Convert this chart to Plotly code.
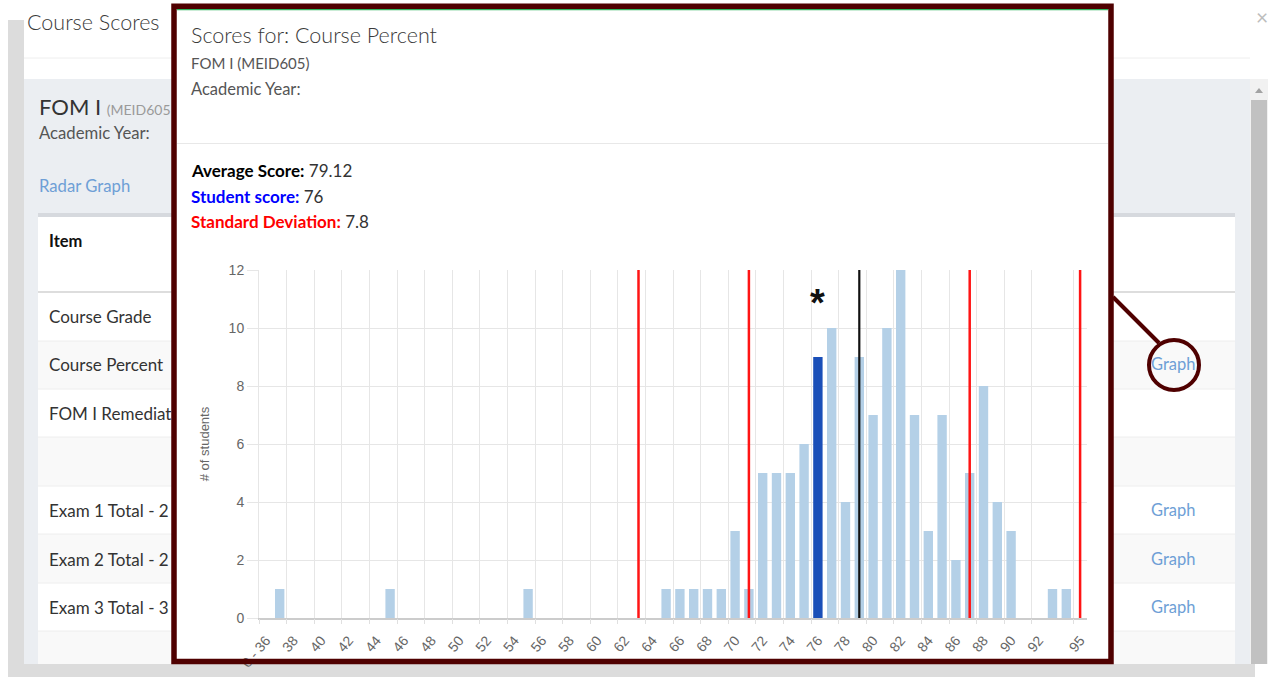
import plotly.graph_objects as go

# ---------------- data ----------------
categories = ["0 - 36", "37", "38", "39", "40", "41", "42", "43", "44", "45",
              "46", "47", "48", "49", "50", "51", "52", "53", "54", "55",
              "56", "57", "58", "59", "60", "61", "62", "63", "64", "65",
              "66", "67", "68", "69", "70", "71", "72", "73", "74", "75",
              "76", "77", "78", "79", "80", "81", "82", "83", "84", "85",
              "86", "87", "88", "89", "90", "91", "92", "93", "94", "95"]
counts = [0, 1, 0, 0, 0, 0, 0, 0, 0, 1,
          0, 0, 0, 0, 0, 0, 0, 0, 0, 1,
          0, 0, 0, 0, 0, 0, 0, 0, 0, 1,
          1, 1, 1, 1, 3, 1, 5, 5, 5, 6,
          9, 10, 4, 9, 7, 10, 12, 7, 3, 7,
          2, 5, 8, 4, 3, 0, 0, 1, 1, 0]
tick_labels = ["0 - 36", "38", "40", "42", "44", "46", "48", "50", "52", "54",
               "56", "58", "60", "62", "64", "66", "68", "70", "72", "74",
               "76", "78", "80", "82", "84", "86", "88", "90", "92", "95"]
average_score = 79.12
student_score = 76
std_dev = 7.8

avg_cat = str(round(average_score))
sd_step = round(std_dev)
sd_cats = [str(round(average_score) + k * sd_step) for k in (-2, -1, 1, 2)]
student_cat = str(student_score)

# ---------------- geometry helpers (page decoration) ----------------
W, H = 1268, 677
ML, MR, MT, MB = 259, 181, 270, 59
PW = W - ML - MR
PH = H - MT - MB


def fx(px):
    return (px - ML) / PW


def fy(py):
    return (H - MB - py) / PH


shapes = []
annotations = []


def rect(x0, y0, x1, y1, fill, layer="below", line_color=None, line_width=0):
    shapes.append(dict(type="rect", xref="paper", yref="paper",
                       x0=fx(x0), x1=fx(x1), y0=fy(y1), y1=fy(y0),
                       fillcolor=fill, layer=layer,
                       line=dict(color=line_color or "rgba(0,0,0,0)", width=line_width)))


def hline(x0, x1, y, color, width=1, layer="below"):
    shapes.append(dict(type="line", xref="paper", yref="paper",
                       x0=fx(x0), x1=fx(x1), y0=fy(y), y1=fy(y),
                       line=dict(color=color, width=width), layer=layer))


def text(x, y, s, size=16, color="#333333", family="Lato", xanchor="left"):
    annotations.append(dict(xref="paper", yref="paper", x=fx(x), y=fy(y),
                            text=s, showarrow=False, xanchor=xanchor, yanchor="middle",
                            font=dict(size=size, color=color, family=family),
                            align="left"))


# page background
rect(8, 20, 24, 677, "#dcdcdc")
rect(24, 664, 1255, 677, "#dcdcdc")
hline(24, 1250, 58, "#eeeeee", 1)
rect(24, 79, 1250, 664, "#ebeef2")
# scrollbar
rect(1250, 79, 1268, 664, "#f1f1f1")
rect(1251, 100, 1267, 664, "#c1c1c1")
shapes.append(dict(type="path", xref="paper", yref="paper", layer="below",
                   path="M %f,%f L %f,%f L %f,%f Z" % (fx(1255), fy(93), fx(1263), fy(93), fx(1259), fy(88)),
                   fillcolor="#a3a3a3", line=dict(width=0)))
# table card
rect(38, 213, 1235, 664, "#ffffff")
rect(38, 213, 1235, 217, "#d6d9de")
for y0, y1 in [(341, 389), (437, 486), (534, 583), (631, 664)]:
    rect(38, y0, 1235, y1, "#f9f9f9")
hline(38, 1235, 292, "#dddddd", 2)
for y in [341, 389, 437, 486, 534, 583, 631]:
    hline(38, 1235, y, "#eeeeee", 1)

# modal
rect(174, 6, 1111, 661.5, "#ffffff")
hline(177, 1108, 9.3, "#2eb35e", 2)
hline(177, 1108, 143.5, "#e8e8e8", 1)
rect(174, 6.3, 1111, 661.5, "rgba(0,0,0,0)", layer="above", line_color="#4f0000", line_width=5.5)
shapes.append(dict(type="line", xref="paper", yref="paper", layer="above",
                   x0=fx(1113), y0=fy(297), x1=fx(1159), y1=fy(343),
                   line=dict(color="#4f0000", width=4)))
shapes.append(dict(type="circle", xref="paper", yref="paper", layer="above",
                   x0=fx(1149), x1=fx(1199), y0=fy(390), y1=fy(340),
                   line=dict(color="#4f0000", width=4)))

# page texts (the parts hidden behind the modal are left out)
LIGHT = "Lato Light, Lato"
text(25, 22, "Course Scores", 21.5, "#3a3a3a", family=LIGHT)
text(1262, 16, "×", 21, "#bdbdbd", xanchor="center")
text(37, 107, "FOM I <span style='font-size:14px;color:#9a9a9a'>(MEID605</span>", 22, "#333333")
text(37, 133, "Academic Year:", 16.7, "#555555")
text(37, 186, "Radar Graph", 16.7, "#6e9fd6")
text(47, 241, "<b>Item</b>", 16.5, "#111111")
for y, s in [(316, "Course Grade"), (364, "Course Percent"), (413, "FOM I Remediat"),
             (510, "Exam 1 Total - 2"), (559, "Exam 2 Total - 2"), (607, "Exam 3 Total - 3")]:
    text(47, y, s, 17, "#333333")
for y in [364, 510, 559, 607]:
    text(1149, y, "Graph", 16.5, "#6e9fd6")

# modal texts
text(189, 35, "Scores for: Course Percent", 21.5, "#3a3a3a", family=LIGHT)
text(189, 63, "FOM I (MEID605)", 15, "#555555")
text(189, 89, "Academic Year:", 16.5, "#555555")
text(189, 170, "<b>Average Score:</b> <span style='color:#333333'>%.2f</span>" % average_score, 17, "#000000")
text(189, 196, "<b>Student score:</b> <span style='color:#333333'>%d</span>" % student_score, 17, "#0000ff")
text(189, 222, "<b>Standard Deviation:</b> <span style='color:#333333'>%.1f</span>" % std_dev, 17, "#ff0000")

# ---------------- chart ----------------
bar_colors = ["#1a4fb8" if c == student_cat else "#b4d0e7" for c in categories]

fig = go.Figure()
fig.add_trace(go.Bar(x=categories, y=counts, marker=dict(color=bar_colors, line=dict(width=0)),
                     hoverinfo="x+y", showlegend=False))
for c in sd_cats:
    fig.add_trace(go.Scatter(x=[c, c], y=[0, 12], mode="lines", line=dict(color="#ff1414", width=2.5),
                             hoverinfo="skip", showlegend=False))
fig.add_trace(go.Scatter(x=[avg_cat, avg_cat], y=[0, 12], mode="lines", line=dict(color="#111111", width=2.2),
                         hoverinfo="skip", showlegend=False))
# invisible trace to carry the boundary-grid axis
fig.add_trace(go.Scatter(x=[-0.5, len(categories) - 0.5], y=[0, 0], xaxis="x2", mode="markers",
                         marker=dict(opacity=0), hoverinfo="skip", showlegend=False))

annotations.append(dict(x=categories.index(student_cat), y=10.85, xref="x", yref="y", text="<b>*</b>",
                        showarrow=False, font=dict(size=38, color="#111111", family="Liberation Sans"),
                        xanchor="center", yanchor="middle"))

boundary_vals = [categories.index(t) - 0.5 for t in tick_labels]

fig.update_layout(
    template="none",
    width=W, height=H,
    margin=dict(l=ML, r=MR, t=MT, b=MB, pad=0),
    paper_bgcolor="#ffffff",
    plot_bgcolor="rgba(0,0,0,0)",
    bargap=0.32,
    showlegend=False,
    shapes=shapes,
    annotations=annotations,
    xaxis=dict(type="category", categoryorder="array", categoryarray=categories,
               range=[-0.5, len(categories) - 0.5],
               tickmode="array", tickvals=tick_labels, ticktext=tick_labels,
               tickangle=-50, tickfont=dict(family="Liberation Sans", size=14, color="#666666"),
               ticks="outside", ticklen=7, tickcolor="rgba(0,0,0,0)",
               showgrid=False, showline=True, linecolor="#cccccc", linewidth=1.5,
               zeroline=False, automargin=False, fixedrange=True),
    xaxis2=dict(type="linear", overlaying="x", anchor="y", side="bottom",
                range=[-0.5, len(categories) - 0.5],
                tickmode="array", tickvals=boundary_vals, showticklabels=False,
                showgrid=True, gridcolor="#e6e6e6", gridwidth=1,
                ticks="outside", ticklen=5, tickcolor="#e0e0e0",
                zeroline=False, showline=False, automargin=False, fixedrange=True),
    yaxis=dict(range=[0, 12], tick0=0, dtick=2, tickmode="linear",
               showgrid=True, gridcolor="#e6e6e6", gridwidth=1,
               ticks="outside", ticklen=11, tickcolor="#e6e6e6",
               tickfont=dict(family="Liberation Sans", size=14, color="#666666"),
               title=dict(text="# of students", font=dict(family="Liberation Sans", size=13, color="#666666"),
                          standoff=16),
               zeroline=False, showline=True, linecolor="#e6e6e6", automargin=False, fixedrange=True),
)

fig.write_html("out.html", config={"displayModeBar": False},
               post_script="document.body.style.margin='0';document.body.style.overflow='hidden';")
